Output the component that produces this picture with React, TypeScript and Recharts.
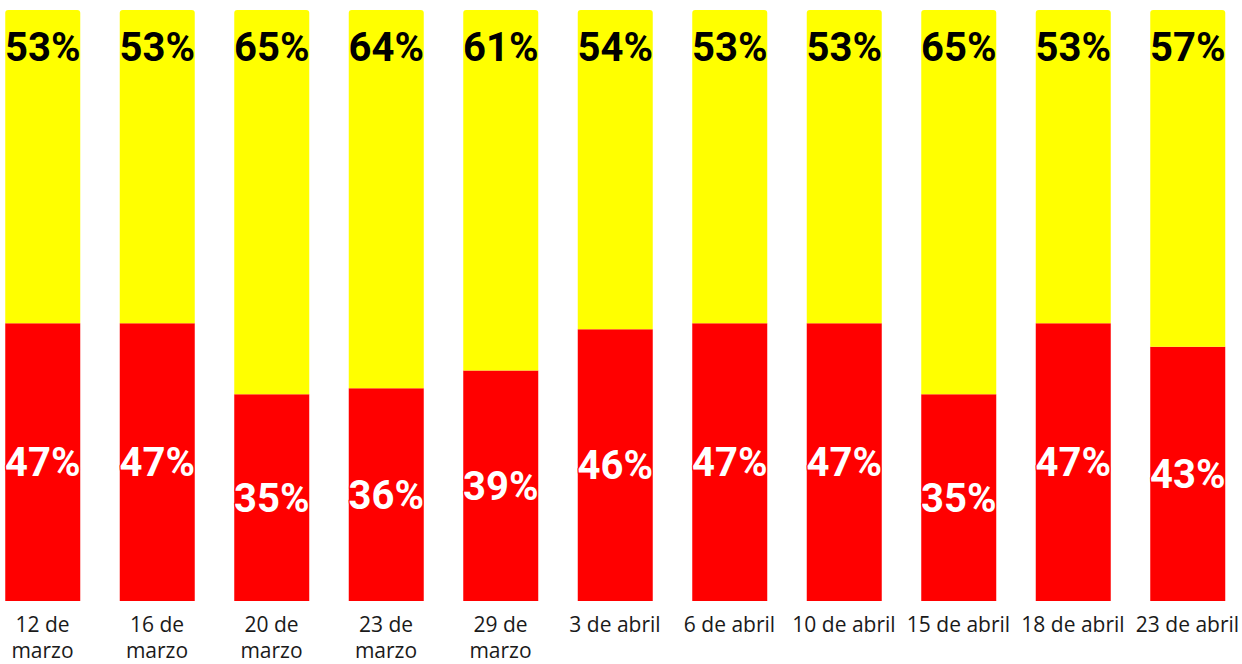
import React from 'react'
import { BarChart, Bar, XAxis, YAxis, LabelList } from 'recharts'

const DATES = [
  '12 de marzo', '16 de marzo', '20 de marzo', '23 de marzo', '29 de marzo',
  '3 de abril', '6 de abril', '10 de abril', '15 de abril', '18 de abril', '23 de abril',
]

// how the original wraps each date label
const TICK_LINES: string[][] = [
  ['12 de', 'marzo'], ['16 de', 'marzo'], ['20 de', 'marzo'], ['23 de', 'marzo'], ['29 de', 'marzo'],
  ['3 de abril'], ['6 de abril'], ['10 de abril'], ['15 de abril'], ['18 de abril'], ['23 de abril'],
]

const RED_VALUES    = [47, 47, 35, 36, 39, 46, 47, 47, 35, 47, 43]
const YELLOW_VALUES = [53, 53, 65, 64, 61, 54, 53, 53, 65, 53, 57]

const RED    = '#FF0000'
const YELLOW = '#FFFF00'

const data = DATES.map((date, i) => ({ date, red: RED_VALUES[i], yellow: YELLOW_VALUES[i] }))

const pct = (v: number) => `${v}%`

function DateTick({ x, y, index }: any) {
  const lines = TICK_LINES[index] ?? []
  return (
    <text x={x} y={y} textAnchor="middle" fill="#1a1a1a" fontSize={21} fontFamily="'Open Sans', sans-serif">
      {lines.map((line, i) => (
        <tspan key={i} x={x} dy={i === 0 ? 23 : 26}>{line}</tspan>
      ))}
    </text>
  )
}

export default function App() {
  return (
    <div style={{ position: 'absolute', left: 0, top: 0, width: 1242, height: 664, overflow: 'hidden', background: '#fff' }}>
      <div style={{ marginLeft: -20 }}>
        <BarChart
          width={1290}
          height={664}
          data={data}
          margin={{ top: 10, right: 25.25, bottom: 0, left: 5.25 }}
        >
          <XAxis dataKey="date" axisLine={false} tickLine={false} height={63} interval={0} tick={<DateTick />} />
          <YAxis hide domain={[0, 100]} />
          <Bar dataKey="red" stackId="a" fill={RED} barSize={75} isAnimationActive={false}>
            <LabelList
              dataKey="red"
              position="center"
              formatter={pct}
              fill="#fff"
              stroke={RED}
              strokeWidth={2}
              paintOrder="stroke"
              fontSize={40}
              fontWeight="bold"
              fontFamily="Roboto, sans-serif"
            />
          </Bar>
          <Bar dataKey="yellow" stackId="a" fill={YELLOW} barSize={75} radius={[3, 3, 0, 0]} isAnimationActive={false}>
            <LabelList
              dataKey="yellow"
              position="insideTop"
              offset={23}
              formatter={pct}
              fill="#000"
              stroke={YELLOW}
              strokeWidth={2}
              paintOrder="stroke"
              fontSize={40}
              fontWeight="bold"
              fontFamily="Roboto, sans-serif"
            />
          </Bar>
        </BarChart>
      </div>
    </div>
  )
}
